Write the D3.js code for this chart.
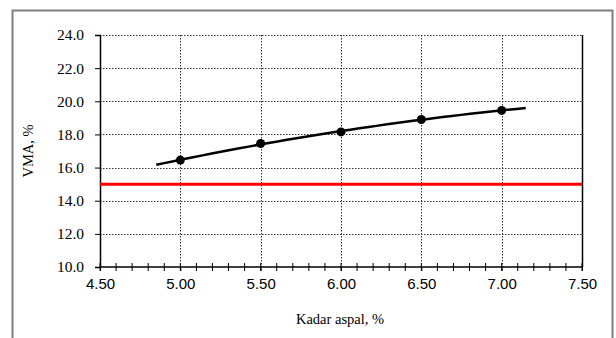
<!DOCTYPE html>
<html><head><meta charset="utf-8">
<script src="https://cdn.jsdelivr.net/npm/d3@7"></script>
<style>body{margin:0;background:#fff}svg{display:block}</style>
</head><body>
<svg id="c" width="616" height="338"></svg>
<script>
const asphalt = [5.0, 5.5, 6.0, 6.5, 7.0];
const vma = [16.45, 17.45, 18.15, 18.9, 19.45];
const vmaLimit = 15.0;
const trendRange = [4.85, 7.15];
const xTicks = [4.5, 5.0, 5.5, 6.0, 6.5, 7.0, 7.5];
const yTicks = [10, 12, 14, 16, 18, 20, 22, 24];
const xTitle = "Kadar aspal, %";
const yTitle = "VMA, %";

const svg = d3.select("#c");
const L = 100, R = 582, T = 35, B = 267;
const x = d3.scaleLinear().domain([4.5, 7.5]).range([L, R]);
const y = d3.scaleLinear().domain([10, 24]).range([B, T]);

// outer frame
svg.append("path").attr("d", `M12.5,345 V10.5 H612.5 V345`).attr("fill","none")
  .attr("stroke","#808080").attr("stroke-width",2);

// grid
const g = svg.append("g");
g.selectAll(".vg").data(xTicks.slice(1,-1)).enter().append("line")
  .attr("x1", d=>Math.round(x(d))+0.5).attr("x2", d=>Math.round(x(d))+0.5)
  .attr("y1", T).attr("y2", B).attr("stroke","#333").attr("stroke-dasharray","1.5,1.5");
g.selectAll(".hg").data(yTicks.slice(1)).enter().append("line")
  .attr("y1", d=>Math.round(y(d))+0.5).attr("y2", d=>Math.round(y(d))+0.5)
  .attr("x1", L).attr("x2", R).attr("stroke","#333").attr("stroke-dasharray","1.5,1.5");
// right border solid
svg.append("line").attr("x1",R+0.5).attr("x2",R+0.5).attr("y1",T).attr("y2",B).attr("stroke","#000").attr("stroke-width",1.5);

// y axis
const yAx = svg.append("g").attr("transform",`translate(${L},0)`)
  .call(d3.axisLeft(y).tickValues(yTicks).tickFormat(d3.format(".1f")).tickSize(5).tickPadding(11));
yAx.select(".domain").attr("stroke","#000").attr("stroke-width",1.5);
yAx.selectAll("text").attr("font-family","'Liberation Serif', serif").attr("font-size",15.5).attr("fill","#000");

// x axis with minor ticks crossing
const minor = d3.range(45, 76).map(v=>v/10);
svg.append("g").selectAll("line").data(minor).enter().append("line")
  .attr("x1", d=>x(d)).attr("x2", d=>x(d)).attr("y1", B-4).attr("y2", B+4)
  .attr("stroke","#000").attr("stroke-width",1);
const xAx = svg.append("g").attr("transform",`translate(0,${B})`)
  .call(d3.axisBottom(x).tickValues(xTicks).tickFormat(d3.format(".2f")).tickSize(4).tickPadding(7));
xAx.select(".domain").attr("stroke","#000").attr("stroke-width",1.5).attr("d",`M${L},0H${R}`);
xAx.selectAll("text").attr("font-family","'Liberation Sans', Arial, sans-serif").attr("font-size",15).attr("fill","#000");

// limit line
svg.append("line").attr("x1",L).attr("x2",R).attr("y1",y(vmaLimit)).attr("y2",y(vmaLimit))
  .attr("stroke","#ff0000").attr("stroke-width",3);

// quadratic least-squares trendline
function polyfit2(xs, ys){
  let s=[0,0,0,0,0], t=[0,0,0];
  xs.forEach((xi,i)=>{ for(let k=0;k<5;k++) s[k]+=Math.pow(xi,k); for(let k=0;k<3;k++) t[k]+=ys[i]*Math.pow(xi,k); });
  const A=[[s[0],s[1],s[2],t[0]],[s[1],s[2],s[3],t[1]],[s[2],s[3],s[4],t[2]]];
  for(let i=0;i<3;i++){ for(let j=i+1;j<3;j++){ const f=A[j][i]/A[i][i]; for(let k=i;k<4;k++) A[j][k]-=f*A[i][k]; } }
  const c=[0,0,0];
  for(let i=2;i>=0;i--){ let v=A[i][3]; for(let k=i+1;k<3;k++) v-=A[i][k]*c[k]; c[i]=v/A[i][i]; }
  return xv=>c[0]+c[1]*xv+c[2]*xv*xv;
}
const f = polyfit2(asphalt, vma);
const tx = d3.range(0, 41).map(i=>trendRange[0]+(trendRange[1]-trendRange[0])*i/40);
svg.append("path").datum(tx).attr("fill","none").attr("stroke","#000").attr("stroke-width",2.5)
  .attr("d", d3.line().x(d=>x(d)).y(d=>y(f(d))));

// points
svg.append("g").selectAll("circle").data(asphalt).enter().append("circle")
  .attr("cx",(d)=>x(d)).attr("cy",(d,i)=>y(vma[i])).attr("r",4.5).attr("fill","#000");

// titles
svg.append("text").attr("x",340).attr("y",324).attr("text-anchor","middle")
  .attr("font-family","'Liberation Serif', serif").attr("font-size",14.5).text(xTitle);
svg.append("text").attr("transform",`translate(33,${(T+B)/2}) rotate(-90)`).attr("text-anchor","middle")
  .attr("font-family","'Liberation Serif', serif").attr("font-size",14.5).text(yTitle);
</script>
</body></html>
